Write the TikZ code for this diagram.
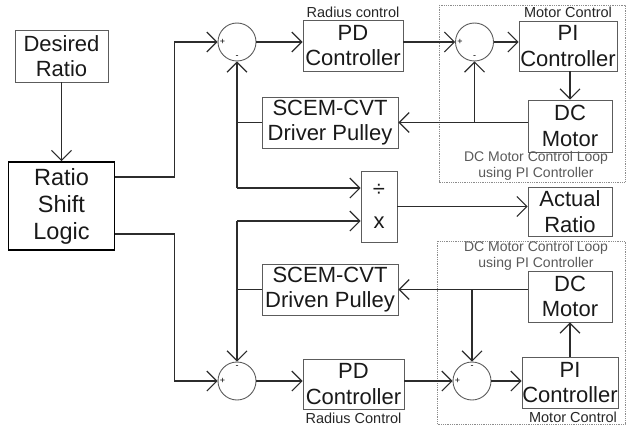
\documentclass[tikz,border=0pt]{standalone}
\usepackage{fontspec}
\setmainfont{Liberation Sans}
\usepackage{tikz}
\usetikzlibrary{arrows.meta,calc,positioning}
\definecolor{lineCol}{HTML}{2C2C2C}
\definecolor{boxCol}{HTML}{5C5C5C}
\definecolor{noteCol}{HTML}{595959}
\definecolor{frameCol}{HTML}{8C8C8C}
\tikzset{
  blk/.style={draw=boxCol, line width=0.9pt, font=\fontsize{22}{25.5}\selectfont, align=center,
              inner sep=0pt, text=black!90},
  sumnode/.style={circle, draw=boxCol, line width=0.9pt, minimum size=38pt, inner sep=0pt},
  sig/.style={-{Straight Barb[length=10pt,width=20pt,line width=1.1pt,sharp]}, line width=1.3pt, draw=lineCol},  % signal with arrow
  wire/.style={line width=1.3pt, draw=lineCol},                                           % plain tap line
  captxt/.style={font=\fontsize{14.5}{17}\selectfont, inner sep=0pt, text=black!85},
  loopnote/.style={captxt, text=noteCol, align=center, font=\fontsize{14}{16}\selectfont},
  sgn/.style={font=\fontsize{9}{9}\selectfont, inner sep=0pt, text=black},
  loopframe/.style={draw=frameCol, densely dotted, line width=0.8pt},
}

\begin{document}
\begin{tikzpicture}[x=1pt,y=-1pt]
  \useasboundingbox (0,0) rectangle (626,428);
  \def\xS{237}\def\xP{353}\def\xM{570}
  % dotted motor loops
  \draw[loopframe] (439,5) rectangle (625,182);
  \draw[loopframe] (437,241) rectangle (625,424);

  \node[blk, minimum width=93pt, minimum height=52pt] (des) at (61.5,56) {Desired\\Ratio};
  \node[blk, draw=black, line width=1.8pt, minimum width=106pt, minimum height=88pt,
        font=\fontsize{23.5}{27}\selectfont] (rsl) at (61.5,206) {Ratio\\Shift\\Logic};

  % upper (driver) branch
  \node[sumnode, label={[sgn,anchor=west,xshift=2pt]west:+}, label={[sgn,anchor=south,yshift=3pt]south:-}] (sumA) at (\xS,42) {};
  \node[blk, minimum width=100pt, minimum height=51pt] (pdA) at (\xP,45.5) {PD\\Controller};
  \node[sumnode, label={[sgn,anchor=west,xshift=2pt]west:+}, label={[sgn,anchor=south,yshift=3pt]south:-}] (sumB) at (474.5,42) {};
  \node[blk, minimum width=98pt, minimum height=50pt] (piA) at (568,46) {PI\\Controller};
  \node[blk, minimum width=84pt, minimum height=52pt] (dcA) at (\xM,126) {DC\\Motor};
  \node[blk, minimum width=136pt, minimum height=51pt] (drvA) at (330,122.5) {SCEM-CVT\\Driver Pulley};

  % ratio
  \node[blk, minimum width=36pt, minimum height=71pt] (div) at (379,206.5) {÷\\[7pt]x};
  \node[blk, minimum width=84pt, minimum height=49pt] (act) at (\xM,211.5) {Actual\\Ratio};

  % lower (driven) branch
  \node[blk, minimum width=136pt, minimum height=51pt] (drvB) at (330,289.5) {SCEM-CVT\\Driven Pulley};
  \node[blk, minimum width=84pt, minimum height=51pt] (dcB) at (\xM,296.5) {DC\\Motor};
  \node[sumnode, label={[sgn,anchor=west,xshift=2pt]west:+}, label={[sgn,anchor=north,yshift=-4pt]north:-}] (sumC) at (\xS,381) {};
  \node[blk, minimum width=101pt, minimum height=50pt] (pdB) at (353.5,384) {PD\\Controller};
  \node[sumnode, label={[sgn,anchor=west,xshift=2pt]west:+}, label={[sgn,anchor=north,yshift=-4pt]north:-}] (sumD) at (472,381) {};
  \node[blk, minimum width=96pt, minimum height=51pt] (piB) at (\xM,382.5) {PI\\Controller};

  % captions
  \node[captxt, above=2pt of pdA] (rcA) {Radius control};
  \node[captxt, above=3pt of piA] (mcA) {Motor Control};
  \node[loopnote] (lnA) at (536,166) {DC Motor Control Loop\\using PI Controller};
  \node[loopnote] (lnB) at (536,255.5) {DC Motor Control Loop\\using PI Controller};
  \node[captxt, below=3pt of pdB] (rcB) {Radius Control};
  \node[captxt, below=3pt of piB, xshift=3pt] (mcB) {Motor Control};

  \coordinate (rslUp) at ($(rsl.east)+(0,-29)$);
  \coordinate (rslLo) at ($(rsl.east)+(0,28)$);
  \coordinate (divIn1) at ($(div.west)+(0,-18.5)$);
  \coordinate (divIn2) at ($(div.west)+(0,14.5)$);

  \draw[sig] (des) -- (rsl);
  \draw[sig] (rslUp) -- ++(59,0) |- (sumA.west);
  \draw[sig] (rslLo) -- ++(59,0) |- (sumC.west);

  \foreach \s/\p in {sumA/pdA, sumC/pdB}{\draw[sig] (\s.east) -- (\s.east -| \p.west);}
  \draw[sig] (pdA.east |- sumB) -- (sumB.west);
  \draw[sig] (pdB.east |- sumD) -- (sumD.west);
  \draw[sig] (sumB.east) -- (sumB.east -| piA.west);
  \draw[sig] (sumD.east) -- (sumD.east -| piB.west);
  \draw[sig] (dcA.north |- piA.south) -- (dcA.north);
  \draw[sig] (dcB.south |- piB.north) -- (dcB.south);

  % motor feedback to pulleys
  \draw[sig] (dcA.west |- drvA.east) -- (drvA.east);
  \draw[sig] (sumB |- drvA.east) -- (sumB.south);
  \draw[sig] (dcB.west |- drvB.east) -- (drvB.east);
  \draw[sig] (sumD |- drvB.east) -- (sumD.north);

  % pulley feedback
  \draw[wire] (drvA.west) -- (drvA.west -| sumA);
  \draw[sig] (sumA |- divIn1) -- (sumA.south);
  \draw[sig] (sumA |- divIn1) -- (divIn1);
  \draw[wire] (drvB.west) -- (drvB.west -| sumC);
  \draw[sig] (sumC |- divIn2) -- (sumC.north);
  \draw[sig] (sumC |- divIn2) -- (divIn2);
  \draw[sig] (div.east) -- (div.east -| act.west);
\end{tikzpicture}
\end{document}
